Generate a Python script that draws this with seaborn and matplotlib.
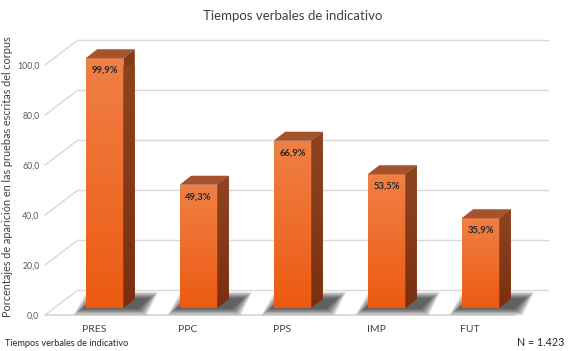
import numpy as np
import pandas as pd
import matplotlib
matplotlib.use("Agg")
import matplotlib.pyplot as plt
import seaborn as sns
from matplotlib.patches import Polygon
from matplotlib.colors import LinearSegmentedColormap
from matplotlib import transforms

# ---- data ----
categories = ["PRES", "PPC", "PPS", "IMP", "FUT"]
values = [99.9, 49.3, 66.9, 53.5, 35.9]
value_labels = ["99,9%", "49,3%", "66,9%", "53,5%", "35,9%"]
yticks = [0, 20, 40, 60, 80, 100]
ytick_labels = ["0,0", "20,0", "40,0", "60,0", "80,0", "100,0"]
title = "Tiempos verbales de indicativo"
ylabel = "Porcentajes de aparición en las pruebas escritas del corpus"
xlabel = "Tiempos verbales de indicativo"
note = "N = 1.423"

df = pd.DataFrame({"tiempo": categories, "pct": values})

sns.set_theme(style="white")
plt.rcParams["font.family"] = ["Lato", "DejaVu Sans"]

DPI = 100
fig = plt.figure(figsize=(5.69, 3.51), dpi=DPI)
x_min, x_max = -0.521, 4.479
ax = fig.add_axes([45 / 569, 36 / 351, 470 / 569, 250 / 351])

bar_w = 0.40
sns.barplot(data=df, x="tiempo", y="pct", ax=ax, width=bar_w,
            color="#EE6A26", edgecolor="none", zorder=3)
ax.set_xlim(x_min, x_max)
ax.set_ylim(0, 100)

px_x = 470 / (x_max - x_min)   # pixels per x unit
px_y = 250 / 100               # pixels per y unit
bdx, bdy = 11.5 / px_x, 9 / px_y      # bar depth (data units)
wdx, wdy = 33 / px_x, 25 / px_y       # wall depth (data units)

# bars sit part-way back on the floor
bar_off = ax.transData + transforms.ScaledTranslation(10.5 / DPI, 7 / DPI,
                                                      fig.dpi_scale_trans)

grid_c = "#D9D9D9"
for v in yticks:
    ax.plot([x_min + wdx, x_max + wdx], [v + wdy, v + wdy], color=grid_c,
            lw=1, zorder=0, clip_on=False)
    ax.plot([x_min, x_min + wdx], [v, v + wdy], color=grid_c, lw=1,
            zorder=0, clip_on=False)
ax.plot([x_min, x_max], [0, 0], color=grid_c, lw=1.3, zorder=1, clip_on=False)

front_cmap = LinearSegmentedColormap.from_list("f", ["#EC5A12", "#F08045"])
side_cmap = LinearSegmentedColormap.from_list("s", ["#7A3010", "#8F4421"])
grad = np.linspace(0, 1, 256).reshape(-1, 1)

for p, v, lab in zip(ax.patches[:len(values)], values, value_labels):
    p.set_transform(bar_off)
    p.set_clip_on(False)
    x0 = p.get_x()
    x1 = x0 + p.get_width()
    # soft (blurred) shadow on the floor
    n_layers = 9
    for k in range(n_layers):
        g = (n_layers - 1 - k) / (n_layers - 1)   # 1 -> 0 (outer -> inner)
        gx, gy = 0.09 * g, 2.6 * g
        sh = Polygon([(x0 - 0.04 - gx, -0.3 - gy), (x1 + 0.16 + gx, -0.3 - gy),
                      (x1 + 0.28 + gx, 3.8 + gy), (x0 + 0.10 - gx, 3.8 + gy)],
                     closed=True, facecolor="#111111", edgecolor="none",
                     alpha=0.11, zorder=2, clip_on=False, transform=bar_off)
        ax.add_patch(sh)
    # front face gradient
    im = ax.imshow(grad, cmap=front_cmap, aspect="auto", origin="lower",
                   extent=[x0, x1, 0, v], zorder=3.5)
    im.set_transform(bar_off)
    im.set_clip_path(p)
    # side face
    side = Polygon([(x1, 0), (x1 + bdx, bdy), (x1 + bdx, v + bdy), (x1, v)],
                   closed=True, facecolor="#843A18", edgecolor="none",
                   zorder=3, clip_on=False, transform=bar_off)
    ax.add_patch(side)
    ims = ax.imshow(grad, cmap=side_cmap, aspect="auto", origin="lower",
                    extent=[x1, x1 + bdx, 0, v + bdy], zorder=3.5)
    ims.set_transform(bar_off)
    ims.set_clip_path(side)
    # top face
    top = Polygon([(x0, v), (x1, v), (x1 + bdx, v + bdy), (x0 + bdx, v + bdy)],
                  closed=True, facecolor="#A5532C", edgecolor="none",
                  zorder=4, clip_on=False, transform=bar_off)
    ax.add_patch(top)
    ax.text((x0 + x1) / 2, v - 4.8, lab, ha="center", va="center",
            fontsize=6.8, fontweight="bold", color="#262626", zorder=6,
            transform=bar_off)

ax.set_xlim(x_min, x_max)
ax.set_ylim(0, 100)

ax.set_yticks(yticks)
ax.set_yticklabels(ytick_labels, fontsize=6.3, color="#595959")
ax.set_xticks(range(len(categories)))
ax.set_xticklabels(categories, fontsize=7.5, color="#404040")
ax.tick_params(axis="both", length=0)
ax.tick_params(axis="y", pad=4)
ax.tick_params(axis="x", pad=7)
ax.set_xlabel("")
ax.set_ylabel("")
for s in ax.spines.values():
    s.set_visible(False)
ax.set_facecolor("none")

fig.text(293 / 569, 1 - 16 / 351, title, ha="center", va="center", fontsize=9.5,
         color="#404040")
fig.text(8 / 569, 1 - 177 / 351, ylabel, rotation=90, ha="center", va="center",
         fontsize=7.8, color="#404040")
fig.text(5 / 569, 1 - 343 / 351, xlabel, ha="left", va="center",
         fontsize=6.6, color="#262626")
fig.text(1 - 5 / 569, 1 - 342 / 351, note, ha="right", va="center",
         fontsize=7.7, color="#262626")

fig.savefig("out.png", dpi=DPI)
